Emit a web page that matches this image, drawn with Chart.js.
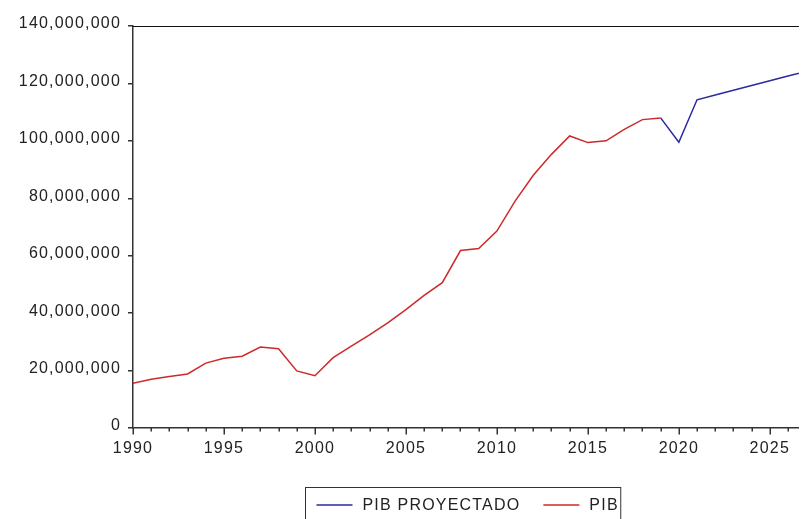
<!DOCTYPE html>
<html>
<head>
<meta charset="utf-8">
<script src="https://cdn.jsdelivr.net/npm/chart.js@4"></script>
<style>
html,body{margin:0;padding:0;background:#fff;}
#wrap{width:801px;height:519px;position:relative;}
</style>
</head>
<body>
<div id="wrap"><canvas id="c"></canvas></div>
<script>
// ---- data ----
const pibYears = [1990,1991,1992,1993,1994,1995,1996,1997,1998,1999,2000,2001,2002,2003,2004,2005,2006,2007,2008,2009,2010,2011,2012,2013,2014,2015,2016,2017,2018,2019];
const pibValues = [15.6,17.0,17.9,18.8,22.6,24.3,25.0,28.2,27.6,19.9,18.2,24.5,28.5,32.4,36.6,41.2,46.2,50.6,61.8,62.5,68.6,79.0,88.0,95.3,101.7,99.4,100.0,104.0,107.4,108.0].map(v => v * 1e6);
const projYears = [2019,2020,2021,2022,2023,2024,2025,2026,2027];
const projValues = [108.0,99.5,114.3,116.0,117.6,119.3,120.9,122.6,124.2].map(v => v * 1e6);
const seriesNames = ['PIB PROYECTADO', 'PIB'];
const xMajorTicks = [1990,1995,2000,2005,2010,2015,2020,2025];
const yTicks = [0,20e6,40e6,60e6,80e6,100e6,120e6,140e6];

const FONT = {family: '"Liberation Sans", Arial, sans-serif', size: 16};
const TEXT = '#222222';
const SPACING = '1.2px';

const toPts = (xs, ys) => xs.map((x, i) => ({x: x, y: ys[i]}));

const decor = {
  id: 'decor',
  beforeLayout(chart) { chart.ctx.letterSpacing = SPACING; },
  beforeDraw(chart) { chart.ctx.letterSpacing = SPACING; },
  afterDraw(chart) {
    const ctx = chart.ctx;
    const a = chart.chartArea;
    const xs = chart.scales.x;
    ctx.save();
    // top border
    ctx.strokeStyle = '#111';
    ctx.lineWidth = 1;
    ctx.beginPath();
    ctx.moveTo(a.left, a.top + 0.5);
    ctx.lineTo(a.right, a.top + 0.5);
    ctx.stroke();
    // x ticks (major + minor)
    ctx.strokeStyle = '#333';
    ctx.lineWidth = 1.5;
    for (let yr = Math.ceil(xs.min); yr <= Math.floor(xs.max); yr++) {
      const px = Math.round(xs.getPixelForValue(yr)) + 0.25;
      const len = (yr % 5 === 0) ? 6.5 : 3.5;
      ctx.beginPath();
      ctx.moveTo(px, a.bottom);
      ctx.lineTo(px, a.bottom + len);
      ctx.stroke();
    }
    // legend
    ctx.letterSpacing = SPACING;
    ctx.font = FONT.size + 'px ' + FONT.family;
    ctx.textBaseline = 'middle';
    ctx.textAlign = 'left';
    const ds = chart.data.datasets;
    const lineLen = 36, padL = 11, gapLT = 10, gapItem = 23, padR = 2;
    const widths = ds.map(d => ctx.measureText(d.label).width);
    let total = padL + padR;
    ds.forEach((d, i) => { total += lineLen + gapLT + widths[i] + (i < ds.length - 1 ? gapItem : 0); });
    const cx = (a.left + a.right) / 2;
    const bx = Math.round(cx - total / 2) - 2.5;
    const by = 487.5;
    const bh = 40;
    ctx.strokeStyle = '#333';
    ctx.lineWidth = 1;
    ctx.strokeRect(bx, by, total, bh);
    let x = bx + padL;
    const ly = 505;
    ds.forEach((d, i) => {
      ctx.strokeStyle = d.borderColor;
      ctx.lineWidth = 1.5;
      ctx.beginPath();
      ctx.moveTo(x, ly);
      ctx.lineTo(x + lineLen, ly);
      ctx.stroke();
      x += lineLen + gapLT;
      ctx.fillStyle = TEXT;
      ctx.fillText(d.label, x, ly + 1);
      x += widths[i] + gapItem;
    });
    ctx.restore();
  }
};

new Chart(document.getElementById('c'), {
  type: 'line',
  data: {
    datasets: [
      {label: seriesNames[0], data: toPts(projYears, projValues), borderColor: '#2a2aa0', borderWidth: 1.5, pointRadius: 0, tension: 0, fill: false, order: 1},
      {label: seriesNames[1], data: toPts(pibYears, pibValues), borderColor: '#cc2a2a', borderWidth: 1.5, pointRadius: 0, tension: 0, fill: false, order: 0}
    ]
  },
  options: {
    responsive: true,
    maintainAspectRatio: false,
    animation: false,
    layout: {padding: {left: 0, top: 26, right: 0, bottom: 0}},
    plugins: {legend: {display: false}, tooltip: {enabled: false}},
    scales: {
      x: {
        type: 'linear',
        min: 1990,
        max: 2026.6,
        afterFit(s) { s.height = 91; },
        afterBuildTicks(s) { s.ticks = xMajorTicks.map(v => ({value: v})); },
        grid: {display: false, drawTicks: false},
        border: {display: true, color: '#333', width: 1.5},
        ticks: {
          autoSkip: false, maxRotation: 0, padding: 11,
          color: TEXT, font: FONT,
          callback: v => String(v)
        }
      },
      y: {
        min: 0,
        max: 140e6,
        afterFit(s) { s.width = 133; },
        afterBuildTicks(s) { s.ticks = yTicks.map(v => ({value: v})); },
        grid: {drawOnChartArea: false, drawTicks: true, tickLength: 5, color: '#333', lineWidth: 1.5},
        border: {display: true, color: '#333', width: 1.5},
        ticks: {
          padding: 7, labelOffset: -2, color: TEXT, font: FONT,
          callback: v => v.toLocaleString('en-US')
        }
      }
    }
  },
  plugins: [decor]
});
</script>
</body>
</html>
